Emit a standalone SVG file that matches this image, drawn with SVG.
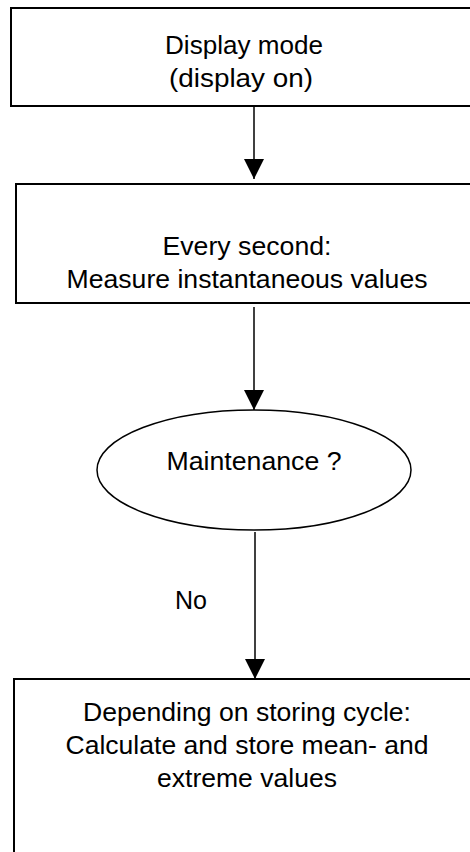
<svg xmlns="http://www.w3.org/2000/svg" width="470" height="852" viewBox="0 0 470 852">
<defs>
<style>
.box{fill:#fff;stroke:#000;stroke-width:2}
.edge{stroke:#000;stroke-width:1.5;fill:none}
.t{font-family:"Liberation Sans",Arial,sans-serif;font-size:25px;fill:#000;text-anchor:middle}
</style>
<marker id="arr" markerWidth="20" markerHeight="20" refX="20" refY="10" orient="auto" markerUnits="userSpaceOnUse">
<path d="M0,0 L20,10 L0,20 Z" fill="#000"/>
</marker>
</defs>
<rect width="470" height="852" fill="#fff"/>
<g id="edges">
<line class="edge" x1="254" y1="106" x2="254" y2="179" marker-end="url(#arr)"/>
<line class="edge" x1="254" y1="307" x2="254" y2="410" marker-end="url(#arr)"/>
<line class="edge" x1="255" y1="532" x2="255" y2="679" marker-end="url(#arr)"/>
<text class="t" x="191" y="609" textLength="32" lengthAdjust="spacingAndGlyphs">No</text>
</g>
<g id="display">
<rect class="box" x="11" y="8" width="470" height="98"/>
<text class="t" x="244" y="54" textLength="158" lengthAdjust="spacingAndGlyphs">Display mode</text>
<text class="t" x="241" y="87" textLength="144" lengthAdjust="spacingAndGlyphs">(display on)</text>
</g>
<g id="measure">
<rect class="box" x="16" y="184" width="470" height="119"/>
<text class="t" x="247" y="255" textLength="169" lengthAdjust="spacingAndGlyphs">Every second:</text>
<text class="t" x="247" y="288" textLength="361" lengthAdjust="spacingAndGlyphs">Measure instantaneous values</text>
</g>
<g id="maintenance">
<ellipse class="box" cx="254" cy="470" rx="157" ry="60" style="stroke-width:1.5"/>
<text class="t" x="254" y="470" textLength="175" lengthAdjust="spacingAndGlyphs">Maintenance ?</text>
</g>
<g id="store">
<rect class="box" x="14" y="679" width="470" height="200"/>
<text class="t" x="247" y="721" textLength="328" lengthAdjust="spacingAndGlyphs">Depending on storing cycle:</text>
<text class="t" x="247" y="754" textLength="363" lengthAdjust="spacingAndGlyphs">Calculate and store mean- and</text>
<text class="t" x="247" y="787" textLength="180" lengthAdjust="spacingAndGlyphs">extreme values</text>
</g>
</svg>
